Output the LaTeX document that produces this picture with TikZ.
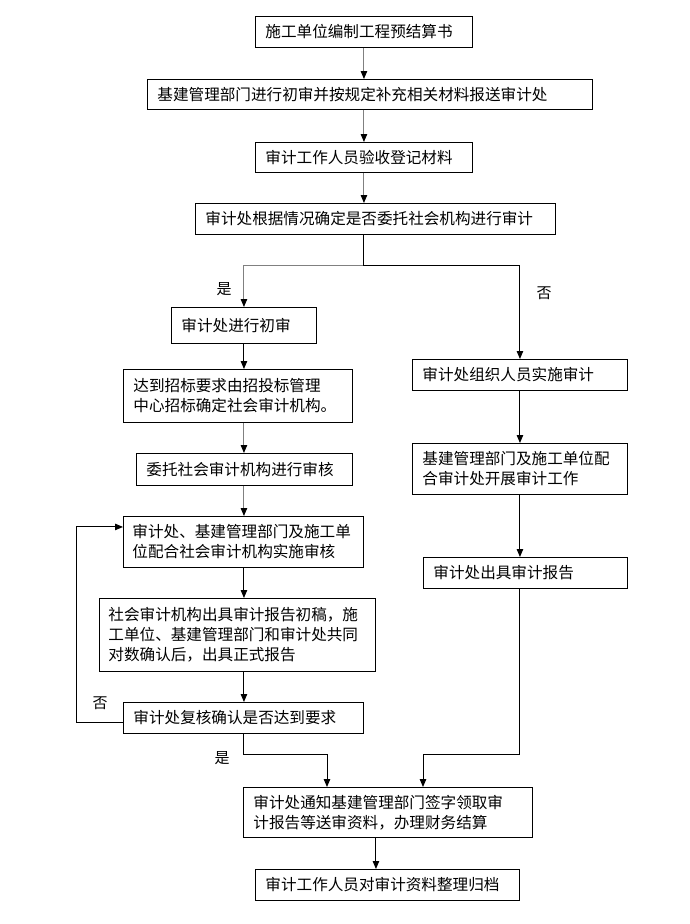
\documentclass[tikz,border=0pt]{standalone}
\usepackage{fontspec}
\setmainfont{Noto Sans CJK SC}
\usepackage{tikz}
\usetikzlibrary{arrows.meta}

\tikzset{
  stepbox/.style={draw=black,line width=0.9pt,anchor=north west,align=left,
    inner xsep=10pt,inner ysep=0pt,font=\fontsize{15.6}{20}\selectfont},
  yesno/.style={font=\fontsize{15}{18}\selectfont},
  garrow/.style={->,draw=gray},
  barrow/.style={->,draw=black},
}

\begin{document}
\begin{tikzpicture}[x=1pt,y=-1pt]
\useasboundingbox (0,0) rectangle (689,924);
\begin{scope}[>={Triangle[length=8pt,width=6.5pt,color=black]},line width=1pt]

    % main column
    \node[stepbox,text width=197pt,minimum height=31pt] (b1) at (255,16) {施工单位编制工程预结算书};
    \node[stepbox,text width=425pt,minimum height=30pt] (b2) at (147,79) {基建管理部门进行初审并按规定补充相关材料报送审计处};
    \node[stepbox,text width=197pt,minimum height=30pt] (b3) at (255,142) {审计工作人员验收登记材料};
    \node[stepbox,text width=340pt,minimum height=31pt] (b4) at (195,203) {审计处根据情况确定是否委托社会机构进行审计};

    \draw[garrow] (b1.south) -- (b1.south |- b2.north);
    \draw[garrow] (b1.south |- b2.south) -- (b1.south |- b3.north);
    \draw[garrow] (b3.south) -- (b3.south |- b4.north);

    % left branch
    \node[stepbox,text width=125pt,minimum height=36pt] (b5) at (171,307) {审计处进行初审};
    \node[stepbox,text width=209pt,minimum height=53pt] (b6) at (123,369) {达到招标要求由招投标管理\\中心招标确定社会审计机构。};
    \node[stepbox,text width=196pt,minimum height=32pt] (b7) at (136,453) {委托社会审计机构进行审核};
    \node[stepbox,text width=222pt,minimum height=51pt,inner xsep=9pt] (b8) at (123,516) {审计处、基建管理部门及施工单\\位配合社会审计机构实施审核};
    \node[stepbox,text width=258pt,minimum height=73pt,inner xsep=9pt] (b9) at (99,598) {社会审计机构出具审计报告初稿，施\\工单位、基建管理部门和审计处共同\\对数确认后，出具正式报告};
    \node[stepbox,text width=220pt,minimum height=31pt] (b10) at (123,702) {审计处复核确认是否达到要求};

    % right branch
    \node[stepbox,text width=195pt,minimum height=31pt] (b12) at (412,359) {审计处组织人员实施审计};
    \node[stepbox,text width=195pt,minimum height=51pt] (b13) at (412,443) {基建管理部门及施工单位配\\合审计处开展审计工作};
    \node[stepbox,text width=184pt,minimum height=31pt] (b14) at (423,557) {审计处出具审计报告};

    % bottom
    \node[stepbox,text width=269pt,minimum height=50pt] (b11) at (243,787) {审计处通知基建管理部门签字领取审\\计报告等送审资料，办理财务结算};
    \node[stepbox,text width=244pt,minimum height=31pt] (b15) at (255,869) {审计工作人员对审计资料整理归档};

    \coordinate (split) at (363,265);
    \coordinate (loopx) at (76,0);
    \coordinate (jl) at (327,754);
    \coordinate (jr) at (423,754);

    \draw[black] (b4.south -| split) -- (split);
    \draw[garrow] (split) -| (b5.north);
    \draw[barrow] (split) -| (b12.north);

    \draw[barrow] (b5.south) -- (b5.south |- b6.north);
    \draw[garrow] (b5.south |- b6.south) -- (b5.south |- b7.north);
    \draw[garrow] (b5.south |- b7.south) -- (b5.south |- b8.north);
    \draw[barrow] (b5.south |- b8.south) -- (b5.south |- b9.north);
    \draw[barrow] (b5.south |- b9.south) -- (b5.south |- b10.north);
    \draw[barrow] ([yshift=-5pt]b10.west) -- ([yshift=-5pt]b10.west -| loopx) |- ([yshift=15pt]b8.west);

    \draw[barrow] (b12.south) -- (b12.south |- b13.north);
    \draw[barrow] (b12.south |- b13.south) -- (b12.south |- b14.north);

    \draw[barrow] (b5.south |- b10.south) |- (jl) -- (jl |- b11.north);
    \draw[barrow] (b12.south |- b14.south) |- (jr) -- (jr |- b11.north);
    \draw[barrow] ([xshift=-12pt]b11.south) -- ([xshift=-12pt]b11.south |- b15.north);

    \node[yesno] (yes1) at (224,289) {是};
    \node[yesno] (no1) at (544,293) {否};
    \node[yesno] (no2) at (100,703) {否};
    \node[yesno] (yes2) at (222,758) {是};

\end{scope}
\end{tikzpicture}
\end{document}
